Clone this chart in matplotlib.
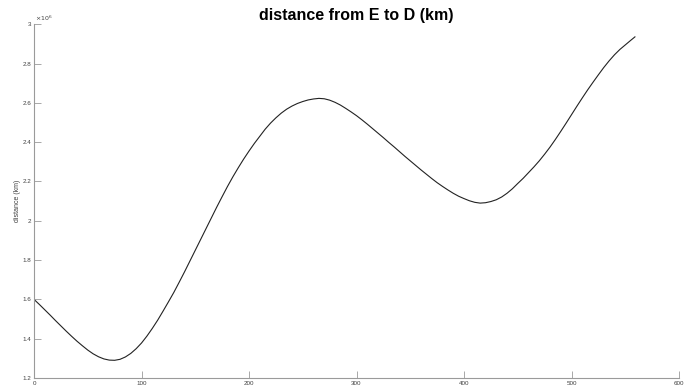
import matplotlib
matplotlib.use("Agg")
import matplotlib.pyplot as plt
from matplotlib.ticker import FuncFormatter
import numpy as np

plt.rcParams['font.family'] = ['Liberation Sans', 'DejaVu Sans']

# readings (x in steps, distance in units of 1e6 km)
step = [0, 5, 10, 15, 20, 25, 30, 35, 40, 45, 50, 55, 60, 65, 70, 75, 80, 85,
        90, 95, 100, 105, 110, 115, 120, 125, 130, 135, 140, 145, 150, 155,
        160, 165, 170, 175, 180, 185, 190, 195, 200, 205, 210, 215, 220, 225,
        230, 235, 240, 245, 250, 255, 260, 265, 270, 275, 280, 285, 290, 295,
        300, 305, 310, 315, 320, 325, 330, 335, 340, 345, 350, 355, 360, 365,
        370, 375, 380, 385, 390, 395, 400, 405, 410, 415, 420, 425, 430, 435,
        440, 445, 450, 455, 460, 465, 470, 475, 480, 485, 490, 495, 500, 505,
        510, 515, 520, 525, 530, 535, 540, 545, 550, 555, 559]
dist_e6 = [1.600, 1.574, 1.547, 1.520, 1.492, 1.465, 1.438, 1.412, 1.387, 1.364,
           1.342, 1.323, 1.308, 1.297, 1.291, 1.290, 1.295, 1.307, 1.325, 1.349,
           1.378, 1.413, 1.452, 1.494, 1.540, 1.587, 1.635, 1.687, 1.740, 1.795,
           1.850, 1.905, 1.960, 2.015, 2.070, 2.123, 2.175, 2.224, 2.270, 2.314,
           2.355, 2.394, 2.430, 2.466, 2.497, 2.524, 2.548, 2.568, 2.584, 2.597,
           2.607, 2.615, 2.620, 2.623, 2.621, 2.614, 2.603, 2.589, 2.572, 2.554,
           2.535, 2.514, 2.492, 2.469, 2.446, 2.423, 2.399, 2.376, 2.352, 2.328,
           2.305, 2.282, 2.259, 2.237, 2.215, 2.194, 2.175, 2.157, 2.140, 2.125,
           2.113, 2.102, 2.094, 2.090, 2.092, 2.098, 2.107, 2.121, 2.140, 2.163,
           2.190, 2.216, 2.245, 2.274, 2.305, 2.339, 2.375, 2.414, 2.455, 2.497,
           2.540, 2.583, 2.625, 2.666, 2.705, 2.743, 2.780, 2.814, 2.845, 2.872,
           2.895, 2.918, 2.936]
dist = np.array(dist_e6) * 1e6

fig = plt.figure(figsize=(6.86, 3.87), dpi=100)
ax = fig.add_axes([0.0496, 0.0233, 0.9402, 0.9139])

ax.plot(step, dist, color='#222222', lw=0.8, solid_joinstyle='round')

ax.set_xlim(0, 600)
ax.set_ylim(1.2e6, 3.0e6)
ax.set_xticks(np.arange(0, 601, 100))
ax.set_yticks(np.arange(1.2e6, 3.01e6, 0.2e6))
ax.yaxis.set_major_formatter(FuncFormatter(lambda v, p: '%g' % round(v / 1e6, 2)))

for s in ['top', 'right']:
    ax.spines[s].set_visible(False)
for s in ['left', 'bottom']:
    ax.spines[s].set_color('#9a9a9a')
    ax.spines[s].set_linewidth(0.8)
ax.tick_params(direction='in', length=5, width=0.6, color='#9a9a9a',
               labelsize=4.5, labelcolor='#404040', pad=2)

ax.text(0.002, 1.005, r'$\times10^6$', transform=ax.transAxes, fontsize=4.5,
        color='#404040', ha='left', va='bottom')
ax.set_ylabel('distance (km)', fontsize=5, color='#404040')
ax.yaxis.set_label_coords(-0.02, 0.5)
ax.set_title('distance from E to D (km)', fontsize=11.5, fontweight='bold', pad=3)

fig.savefig('out.png', dpi=100)
